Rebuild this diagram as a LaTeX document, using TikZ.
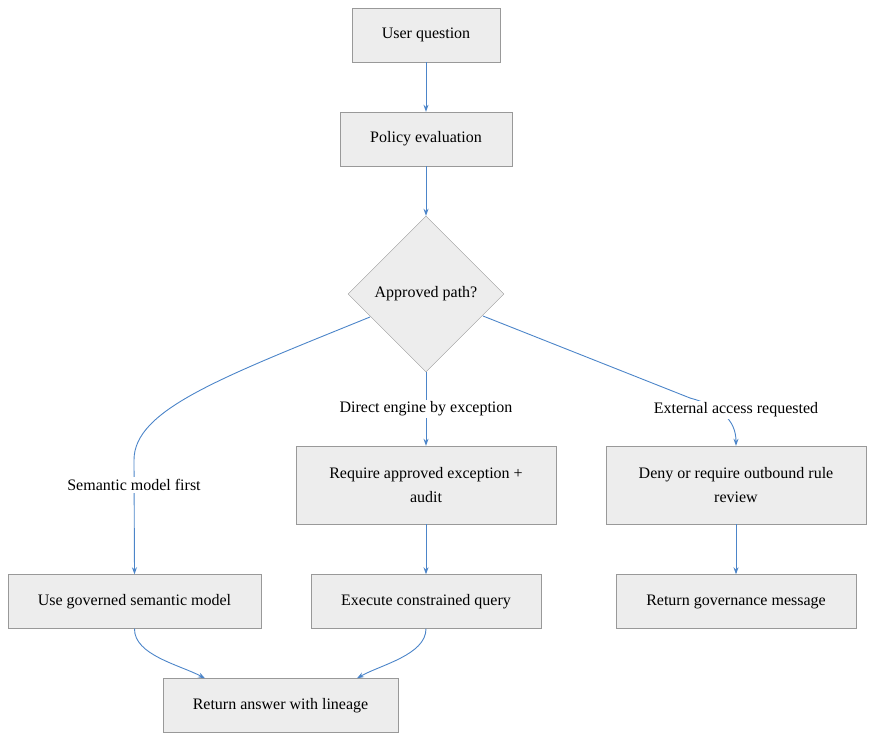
\documentclass[tikz,border=0pt]{standalone}
\usepackage{fontspec}
\setmainfont{Liberation Serif}
\usetikzlibrary{shapes.geometric,arrows.meta}
\begin{document}
\begin{tikzpicture}[x=1pt,y=-1pt,
  box/.style={draw=black!40,fill=black!7,rectangle,minimum width=#1,minimum height=54pt,inner sep=2pt,align=center,font=\fontsize{16}{24}\selectfont},
  box/.default=100pt,
  lbl/.style={fill=white,inner sep=2pt,font=\fontsize{16}{18}\selectfont},
  ar/.style={draw=blue!55!cyan!70!black!70,line width=0.9pt,-{Stealth[length=7pt,width=5pt]}},
  ln/.style={draw=blue!55!cyan!70!black!70,line width=0.9pt}]
\useasboundingbox (0,0) rectangle (874,741);
\node[box=148pt] (uq) at (426,35) {User question};
\node[box=172pt] (pe) at (426,139) {Policy evaluation};
\node[draw=black!40,fill=black!7,diamond,minimum width=156pt,minimum height=156pt,inner sep=0pt,font=\fontsize{16}{18}\selectfont] (ap) at (426,294) {Approved path?};
\node[box=260pt,minimum height=78pt] (rq) at (426,485) {Require approved exception +\\audit};
\node[box=260pt,minimum height=78pt] (dn) at (736,485) {Deny or require outbound rule\\review};
\node[box=253pt] (ug) at (134.5,601.5) {Use governed semantic model};
\node[box=230pt] (ex) at (426,601.5) {Execute constrained query};
\node[box=240pt] (rg) at (736,601.5) {Return governance message};
\node[box=235pt] (ra) at (280.5,705.5) {Return answer with lineage};
\coordinate (cl) at (134,485);
\coordinate (cr) at (690,398);
\draw[ar] (uq) -- (pe);
\draw[ar] (pe) -- (ap);
\draw[ar] (ap) -- node[lbl,pos=0.5]{Direct engine by exception} (rq);
\draw[ar] (370,317) .. controls (220,378) and (134,410) .. (134,460) -- (ug.north);
\node[lbl] at (cl) {Semantic model first};
\draw[ln] (483,316) -- (cr);
\draw[ar] (cr) .. controls (720,406) and (736,420) .. (dn.north);
\node[lbl] (el) at (736,410) {External access requested};
\draw[ar] (rq) -- (ex);
\draw[ar] (dn) -- (rg);
\draw[ar] (ug.south) .. controls (134,655) and (180,665) .. (ra.north -| 205,0);
\draw[ar] (ex.south) .. controls (426,655) and (380,665) .. (ra.north -| 357,0);
\end{tikzpicture}
\end{document}
